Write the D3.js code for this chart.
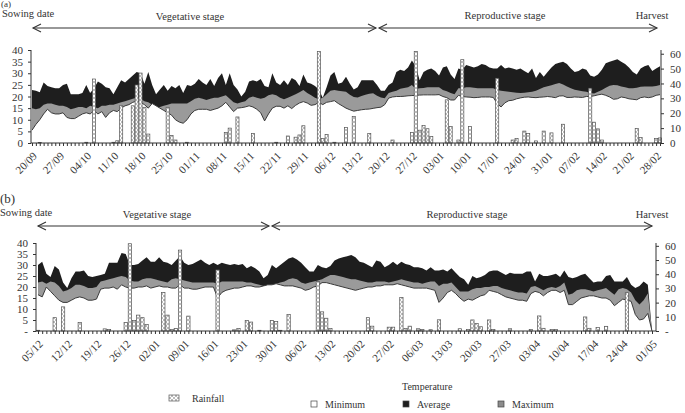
<!DOCTYPE html>
<html>
<head>
<meta charset="utf-8">
<script src="https://cdn.jsdelivr.net/npm/d3@7"></script>
<style>
  body { margin: 0; background: #fff; }
  svg text { font-family: "Liberation Serif", "Times New Roman", serif; fill: #333; }
</style>
</head>
<body>
<svg id="chart" width="685" height="413"></svg>
<script>
// ---- panel (a): daily values from 20/09 ----
const aMax = [
  22.8, 22.5, 21.8, 26, 24.5, 24, 23.5, 23.5, 25, 25.5,
  21, 21, 21, 21.5, 25, 21.5, 23.5, 26.5, 25.5, 24,
  23.5, 21, 24, 27, 26, 27.5, 29, 30.5, 30, 25.5,
  30.5, 25, 21, 23, 25, 22.5, 24.5, 23.5, 25, 21.5,
  25, 24.5, 25.5, 27.5, 26, 25, 27.5, 24.5, 28, 30,
  25, 30, 25, 23, 20, 22, 26.5, 27, 26.5, 27.5,
  24.5, 24, 30, 26, 25, 27, 25, 28, 27, 24.5,
  29.5, 26, 25.5, 24.5, 23, 19.5, 24, 29, 30.5, 25.5,
  26, 28.5, 25.5, 23, 24, 27, 27, 27, 27, 25,
  22.5, 22.5, 25, 26, 30.5, 31.5, 31, 32.5, 35.5, 33,
  27, 30.5, 31.5, 32, 31, 29, 32.5, 33, 29.5, 27.5,
  32, 31.5, 33.5, 33, 32.5, 33, 34, 33.5, 32.5, 32,
  32, 33.5, 32, 32.5, 32, 31.5, 32, 31, 30, 32,
  28, 30.5, 28.5, 30.5, 32.5, 34, 34.5, 35, 34, 32,
  30.5, 31, 32, 31.5, 29, 28.5, 29.5, 31.5, 34.3, 35,
  35.5, 36, 35, 34, 32.5, 30.5, 29.5, 32, 33, 33.5,
  31, 32, 33
];
const aMid = [
  15, 14.5, 15, 16.5, 17, 17, 16.5, 16, 16, 15.5,
  14.5, 15, 15.5, 15.5, 15, 16, 15.5, 15, 16, 16,
  16.5, 16.5, 17, 17.5, 18, 18.5, 19, 19.5, 19, 18,
  17.5, 16.5, 15, 15.5, 16, 16.5, 17, 17, 17, 17,
  17, 18, 19, 19.5, 19, 18.5, 19, 19.5, 19.5, 20,
  20.5, 19, 17.5, 17, 17.5, 18, 19.5, 20, 19.5, 19,
  19.5, 20.5, 21, 20.5, 19.5, 18.8, 19.5, 20.2, 21, 21.8,
  22.8, 21.5, 20.5, 19.5, 18.8, 19.5, 21, 22.5, 22.8, 22.5,
  22.3, 22, 20.8, 19.8, 19.6, 20.2, 20.8, 21.2, 21.4, 20.3,
  19.6, 19.3, 21.5, 22, 22.5, 23.3, 23.7, 24, 25, 23.2,
  23.5, 23.7, 24, 24, 24, 24, 22.8, 22.3, 21.5, 21,
  23.5, 23.5, 24, 24, 23.8, 23.6, 23.5, 23.5, 23.5, 23.5,
  22.8, 22.5, 22.3, 22, 21.8, 21.6, 21.5, 21.6, 21.8, 22,
  22.5, 23.2, 24, 24.4, 24.8, 25.4, 25.8, 25.2, 24.3, 23.5,
  22.9, 22.6, 22.3, 22, 21.5, 21.3, 22, 22.8, 23.8, 24.6,
  25, 24.8, 24.3, 24, 23.6, 23.5, 23.8, 24.2, 24.3, 24.3,
  24.3, 24.5, 25
];
const aMin = [
  5.5, 8, 10, 12.5, 14.5, 13, 12.5, 12.5, 13, 11,
  10.5, 10.5, 11.5, 12.5, 13, 12.5, 14, 12.5, 13.5, 11,
  13, 14, 13.5, 15, 16, 16.5, 17.5, 18, 17.5, 16.5,
  15, 17, 16, 15, 14, 13, 12, 10, 9, 8.5,
  10, 12.5, 14, 14.5, 14.5, 14.5, 14, 14.5, 15, 16,
  17.5, 15.5, 13.5, 15, 15.2, 15.5, 16, 15.5, 14.5, 13,
  9.5, 12.5, 15, 15.8, 15.8, 15, 16, 14.8, 16.2, 17.2,
  17.8, 17.2, 16.2, 16.5, 17.5, 16.5, 17.5, 17.8, 18.2, 17,
  16, 15, 14.3, 13.7, 14, 14.3, 14.5, 14.6, 14.9, 15.2,
  15.4, 16.5, 19.3, 19.8, 20, 20, 20.1, 20.3, 20.4, 20.5,
  20.6, 20.7, 20.7, 20.7, 20.7, 20.8, 20, 19.5, 18.5, 18.5,
  20.5, 20, 19.8, 19.7, 19.5, 19.6, 19.8, 19.8, 19.8, 19.6,
  17, 15.5, 17.3, 18.2, 18.4, 19, 19.4, 19.7, 19.8, 19.6,
  19.5, 19.7, 19.8, 20, 19.8, 19.5, 20.2, 20.3, 19.6, 19.6,
  19.8, 19.7, 19.6, 20, 20, 20.3, 20.7, 21, 20.5, 19.8,
  18.8, 19, 19.8, 19.5, 19, 18.8, 18.6, 19.5, 19.8, 19.5,
  19.8, 20.5, 20.8
];
const aRain = [
  0, 0, 0.3, 0, 0, 0, 0, 0, 0, 0,
  0, 0, 0, 0, 0.5, 0, 43, 0, 0, 0,
  0, 0.5, 1.5, 25, 0, 0, 25, 39, 47, 24,
  6, 0, 0, 0, 0, 24, 5, 2, 0, 0,
  0.5, 0, 0, 0, 0, 0, 0, 0, 0, 0,
  7, 10, 0, 17.5, 0, 0, 0, 6.4, 0, 0,
  0, 0, 0, 0.5, 0, 0, 4.7, 0, 3.9, 5.4,
  11.6, 0, 0, 0, 61.5, 3, 5.8, 0, 0.5, 0,
  0, 10.5, 0, 17.8, 0, 0, 0, 6.4, 0, 0,
  0, 0, 0, 2, 0, 0, 0, 0, 7, 61.5,
  8.6, 11.8, 9.6, 4.3, 0, 0, 0, 29, 11, 0,
  2, 56, 0, 11, 0, 0, 0, 0, 0, 0,
  43.5, 0, 0, 0, 2, 3, 0, 8, 6.3, 0,
  1.4, 0, 8, 0, 6.8, 0, 0, 12.6, 0, 0,
  0, 0, 0, 0, 36.8, 14, 9.5, 2, 0, 0,
  0, 0, 0, 0, 0, 0, 9.7, 3.6, 0, 0,
  0, 3, 3.4
];
const aDates = ["20/09", "27/09", "04/10", "11/10", "18/10", "25/10", "01/11", "08/11",
  "15/11", "22/11", "29/11", "06/12", "13/12", "20/12", "27/12", "03/01", "10/01",
  "17/01", "24/01", "31/01", "07/02", "14/02", "21/02", "28/02"];

// ---- panel (b): daily values from 05/12 ----
const bMax = [
  30, 31.5, 26, 24.5, 29.5, 28, 22, 19.5, 24, 27,
  27, 27.5, 25, 24.5, 25, 25.5, 26, 31, 31, 31,
  35.5, 35, 30, 30, 30.5, 32, 33.5, 31.5, 31.5, 33.5,
  31.5, 31, 30, 32, 34, 31, 30, 30.5, 31.5, 32.5,
  31, 30, 31, 30, 31, 30.5, 30, 30.5, 30, 30.5,
  28.5, 29.5, 28.5, 27, 24, 25.5, 30, 28.5, 30, 31.5,
  33, 33.5, 32.5, 31, 29, 27, 27, 30, 29, 28.5,
  29.5, 32, 33, 33.5, 34, 34.5, 33.5, 31.5, 31, 30,
  29, 32, 31.5, 29, 30, 31.5, 30, 31.5, 30.5, 30,
  29, 29, 28.5, 27.5, 29, 27.5, 27.5, 28, 27, 28.5,
  26.5, 24.5, 23.5, 21, 25, 24, 24.5, 25.5, 27, 27.5,
  27.5, 26.5, 25.5, 26.5, 26, 26, 26, 27, 27, 22.5,
  26, 25, 25, 25.5, 26, 24.5, 27.5, 24.5, 24, 24.5,
  25.5, 26, 24, 22, 22.5, 22.5, 25, 25.5, 22.5, 22.5,
  22.5, 24.5, 21, 19.5, 20.5, 22.5, 21, 0
];
const bMid = [
  22, 22.5, 21.5, 22.5, 22, 20.5, 18, 18.5, 19.5, 21,
  21, 20.5, 19.5, 19.5, 20, 22.5, 23, 23.5, 24, 24.5,
  25, 24.5, 23, 22.5, 22.5, 23.5, 24, 24, 23.5, 23,
  22.5, 22, 23.5, 24, 23.5, 23, 22.5, 22, 22, 22,
  22, 22, 22, 21.5, 22.5, 22.5, 22.5, 22.5, 22.5, 22.5,
  22, 22, 21.5, 21, 20.5, 20.5, 21, 21.5, 22, 22.5,
  23.5, 24, 23.5, 22, 21.5, 22, 22.5, 23, 23.5, 24.5,
  25.5, 25.5, 25, 24.5, 24, 23.5, 23.5, 23, 22.5, 22,
  22, 22.5, 22.5, 22.5, 22, 22.5, 23, 23.5, 23, 22.5,
  22, 22, 21.5, 22, 22.5, 22.5, 20.5, 21.5, 21.5, 22,
  20, 18, 18, 18, 19, 19.5, 19.5, 20, 20, 20.5,
  20.5, 19.5, 19, 18.5, 18, 17.5, 17.5, 17, 20, 20.5,
  19.5, 18.5, 19.5, 20, 19.5, 20.5, 22, 16.5, 17, 18.5,
  19, 19, 18.5, 18, 18.5, 19, 19.5, 18, 16.5, 19,
  19.5, 19, 17.5, 14, 12, 14, 17, 0
];
const bMin = [
  16.5, 15.5, 20, 18, 16, 14, 13, 13, 14, 15,
  15.5, 15, 14, 14, 14.5, 19, 19.5, 19.5, 20, 19,
  21, 20, 19.5, 19.5, 20, 20, 20.5, 19.5, 20, 20.5,
  20, 20, 19.5, 19.5, 21, 19.5, 19.5, 19, 19, 19.5,
  20, 20, 20, 15, 17.5, 18.5, 19, 19.5, 19.5, 20,
  20.5, 20.5, 20, 20, 20.5, 21, 21, 21.5, 21, 20.5,
  20.5, 20.5, 20, 19.5, 18.5, 19, 20, 20.5, 22, 22,
  21.5, 21, 20.5, 20, 19.5, 19, 18.5, 19, 19.5, 20,
  20, 20.5, 20.5, 21, 21, 21, 21.5, 21, 20.5, 20,
  19.5, 19.5, 19.5, 19.5, 19, 18.5, 13, 15, 17.5, 18.5,
  17, 15, 13.5, 14.5, 14, 15, 16, 16.5, 18.5, 18,
  17.5, 16.5, 15.5, 15, 14.5, 14, 14, 13.5, 17, 18,
  17.5, 16, 17.5, 18.5, 18.5, 17.5, 18.5, 12, 12, 13.5,
  15, 15.5, 16, 16, 15.5, 15, 15, 14, 11.5, 13,
  14.5, 14, 13.5, 7.5, 5, 5.5, 8, 0
];
const bRain = [
  0.5, 0, 0, 0, 9.4, 0, 17, 0, 0, 0,
  6, 0, 0, 0, 0, 0, 1.5, 1, 0, 0,
  0, 6, 61.5, 7.4, 11.2, 9.4, 4.5, 0, 0, 0,
  27.2, 11.2, 1, 1.8, 57, 0, 10.5, 0, 0, 0,
  0, 0, 0, 43, 0, 0, 0, 0.8, 1.8, 0,
  7.4, 6.3, 0, 0.5, 0, 0, 7.4, 6.7, 0.5, 0,
  11.7, 0, 0, 0, 0, 0, 0, 34.8, 13.5, 9,
  1.8, 0, 0, 0, 0, 0, 0, 0, 0, 9.4,
  3.4, 0, 0, 0, 2.7, 2.7, 0, 23.6, 1.8, 3.4,
  0, 1.6, 1, 0, 0.9, 0, 7.9, 0, 0, 0,
  0, 1.6, 0, 1, 7.8, 5.2, 3, 0, 7.8, 1,
  0, 0, 0, 1.6, 0, 0, 0, 0, 1, 0,
  10.6, 1.9, 0, 1, 1, 0, 0, 0, 0, 0,
  0, 9.9, 1.9, 0, 2.4, 0, 3.3, 0, 0, 0,
  0, 27, 0, 0, 0, 0, 0, 0
];
const bDates = ["05/12", "12/12", "19/12", "26/12", "02/01", "09/01", "16/01", "23/01",
  "30/01", "06/02", "13/02", "20/02", "27/02", "06/03", "13/03", "20/03", "27/03",
  "03/04", "10/04", "17/04", "24/04", "01/05"];

const tempTicks = [0, 5, 10, 15, 20, 25, 30, 35, 40];
const rainTicks = [0, 10, 20, 30, 40, 50, 60];

const svg = d3.select('#chart');

// cross-hatch fill used for rainfall bars
const hatch = svg.append('defs').append('pattern')
  .attr('id', 'hatch').attr('patternUnits', 'userSpaceOnUse')
  .attr('width', 4).attr('height', 4);
hatch.append('rect').attr('width', 4).attr('height', 4).attr('fill', '#fff');
hatch.append('path').attr('d', 'M0,0L4,4M4,0L0,4')
  .attr('stroke', '#a0a0a0').attr('stroke-width', 0.7);

function drawPanel(p) {
  const n = p.max.length;
  const days = d3.range(n);
  const x = d3.scaleLinear().domain([0, n - 1]).range([p.x0, p.x1]);
  const yT = d3.scaleLinear().domain([0, 40]).range([p.base, p.top]);
  const yR = d3.scaleLinear().domain([0, p.rainTop]).range([p.base, p.top]);
  const g = svg.append('g');

  const area = s => d3.area().x(d => x(d)).y0(p.base).y1(d => yT(s[d]));
  g.append('path').datum(days).attr('d', area(p.max)).attr('fill', '#1e1e1e');
  g.append('path').datum(days).attr('d', area(p.mid)).attr('fill', '#9a9a9a');
  g.append('path').datum(days).attr('d', area(p.min)).attr('fill', '#fff');
  g.append('path').datum(days)
    .attr('d', d3.line().x(d => x(d)).y(d => yT(p.min[d])))
    .attr('fill', 'none').attr('stroke', '#3a3a3a').attr('stroke-width', 1);

  // rainfall bars on the right-hand scale
  const bw = (x(1) - x(0)) * 0.8;
  g.selectAll('rect.rain').data(days.filter(d => p.rain[d] > 0)).join('rect')
    .attr('class', 'rain')
    .attr('x', d => x(d) - bw / 2).attr('width', bw)
    .attr('y', d => yR(p.rain[d]))
    .attr('height', d => p.base - yR(p.rain[d]))
    .attr('fill', 'url(#hatch)').attr('stroke', '#555').attr('stroke-width', 0.7);

  // x axis: one small tick per day
  const xa = g.append('g').attr('transform', `translate(0,${p.base})`)
    .call(d3.axisBottom(x).tickValues(days).tickSize(3).tickSizeOuter(0).tickFormat(''));
  xa.select('.domain').attr('d', `M${p.axL},0H${p.axR}`);
  xa.selectAll('line, path').attr('stroke', '#333');

  g.selectAll('text.date').data(p.dates).join('text')
    .attr('class', 'date')
    .attr('transform', (t, i) => `translate(${x(i * 7) + 3},${p.base + 11}) rotate(-45)`)
    .attr('text-anchor', 'end').attr('dy', '0.35em')
    .style('font-size', '11px').text(t => t);

  const yl = g.append('g').attr('transform', `translate(${p.axL},0)`)
    .call(d3.axisLeft(yT).tickValues(tempTicks).tickSize(3).tickSizeOuter(0).tickPadding(5)
      .tickFormat(v => (v === 0 ? p.zero : v)));
  const yr = g.append('g').attr('transform', `translate(${p.axR},0)`)
    .call(d3.axisRight(yR).tickValues(rainTicks).tickSize(3).tickSizeOuter(0).tickPadding(6)
      .tickFormat(v => (v === 0 ? p.zero : v)));
  [yl, yr].forEach(a => {
    a.selectAll('line, path').attr('stroke', '#333');
    a.selectAll('text').style('font-family', '"Liberation Serif", serif')
      .style('font-size', '11px').attr('fill', '#333');
  });
  yl.select('.domain').attr('d', `M0,${p.base}V${p.top}`);
  yr.select('.domain').attr('d', `M0,${p.base}V${p.top}`);
}

function arrow(x0, x1, y, headL, headR) {
  const g = svg.append('g').attr('stroke', '#333').attr('stroke-width', 1.1).attr('fill', 'none');
  g.append('path').attr('d', `M${x0},${y}H${x1}`);
  if (headL) g.append('path').attr('d', `M${x0 + 8},${y - 4}L${x0},${y}L${x0 + 8},${y + 4}`);
  if (headR) g.append('path').attr('d', `M${x1 - 8},${y - 4}L${x1},${y}L${x1 - 8},${y + 4}`);
}

function label(txt, x, y, size, anchor) {
  svg.append('text').attr('x', x).attr('y', y)
    .attr('text-anchor', anchor || 'start')
    .style('font-size', size + 'px').text(txt);
}

drawPanel({ max: aMax, mid: aMid, min: aMin, rain: aRain, dates: aDates,
  x0: 32, x1: 660, axL: 31, axR: 661, base: 143, top: 50, rainTop: 62.5, zero: '0' });
drawPanel({ max: bMax, mid: bMid, min: bMin, rain: bRain, dates: bDates,
  x0: 38, x1: 652, axL: 36, axR: 656, base: 331, top: 243, rainTop: 62, zero: '-' });

// stage annotations
label('(a)', 1, 7, 9);
label('Sowing date', 2, 17, 10.5);
label('Vegetative stage', 190, 20, 10.5, 'middle');
label('Reproductive stage', 505, 19, 10.5, 'middle');
label('Harvest', 652, 19, 10.5, 'middle');
arrow(33, 376, 28, true, true);
arrow(379, 657, 28, true, true);

label('(b)', 0, 203, 13);
label('Sowing date', 0, 216, 10.5);
label('Vegetative stage', 157, 218, 10.5, 'middle');
label('Reproductive stage', 467, 218, 10.5, 'middle');
label('Harvest', 652, 218, 10.5, 'middle');
arrow(38, 269, 226, true, true);
arrow(272, 652, 226, true, true);

// legend
svg.append('rect').attr('x', 169).attr('y', 395).attr('width', 10).attr('height', 6)
  .attr('fill', 'url(#hatch)').attr('stroke', '#555').attr('stroke-width', 0.7);
label('Rainfall', 192, 402, 10);
label('Temperature', 402, 390, 10);
const legendItems = [
  { name: 'Minimum', fill: '#fff', x: 311 },
  { name: 'Average', fill: '#1e1e1e', x: 403 },
  { name: 'Maximum', fill: '#8c8c8c', x: 498 }
];
legendItems.forEach(it => {
  svg.append('rect').attr('x', it.x).attr('y', 401).attr('width', 6).attr('height', 6)
    .attr('fill', it.fill).attr('stroke', '#444').attr('stroke-width', 0.7);
  label(it.name, it.x + 14, 408, 10);
});
</script>
</body>
</html>
